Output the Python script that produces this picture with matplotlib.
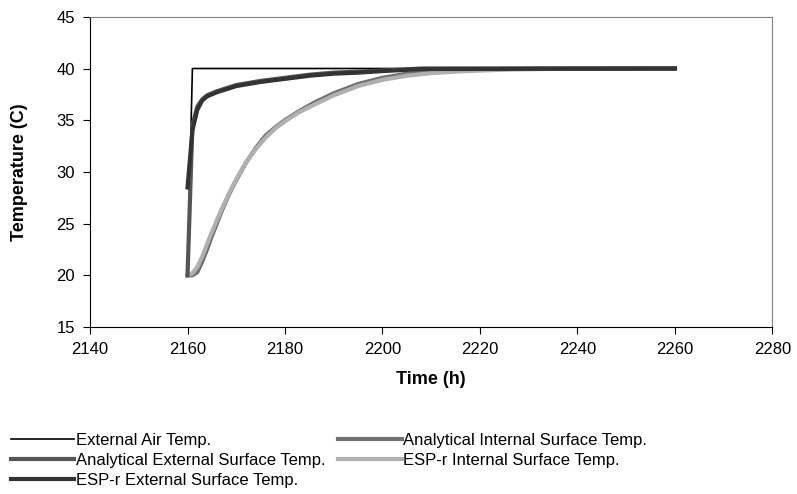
import matplotlib.pyplot as plt
import numpy as np

plt.rcParams['font.family'] = ['Liberation Sans', 'DejaVu Sans']

# hours and readings
t_air = [2160, 2161, 2260]
air = [20, 40, 40]

t_ext = [2160, 2161, 2162, 2163, 2164, 2166, 2168, 2170, 2175, 2180,
         2185, 2190, 2195, 2200, 2208, 2260]
ana_ext = [20, 34.5, 36.3, 37.0, 37.4, 37.8, 38.1, 38.4, 38.8, 39.1,
           39.4, 39.6, 39.7, 39.8, 40.0, 40.0]
esp_ext = [28.5, 34.0, 36.0, 36.9, 37.3, 37.7, 38.0, 38.3, 38.7, 39.0,
           39.3, 39.5, 39.6, 39.75, 39.95, 40.0]

t_int = [2160, 2161, 2162, 2163, 2164, 2165, 2166, 2167, 2168, 2169, 2170,
         2172, 2174, 2176, 2178, 2180, 2183, 2186, 2190, 2195, 2200, 2205,
         2210, 2215, 2220, 2230, 2240, 2260]
ana_int = [20, 20, 20.3, 21.3, 22.5, 23.8, 25.0, 26.2, 27.3, 28.3, 29.2,
           30.9, 32.3, 33.5, 34.3, 35.0, 35.9, 36.7, 37.6, 38.5, 39.1, 39.5,
           39.7, 39.85, 39.92, 39.98, 40.0, 40.0]
t_esp_int = [2160, 2161, 2162, 2163, 2164, 2165, 2166, 2167, 2168, 2169, 2170,
             2172, 2174, 2176, 2178, 2180, 2183, 2186, 2190, 2195, 2200, 2205,
             2210, 2215, 2220, 2226, 2233]
esp_int = [20, 20.2, 20.8, 21.8, 23.0, 24.2, 25.3, 26.4, 27.4, 28.4, 29.3,
           30.9, 32.2, 33.3, 34.2, 34.9, 35.8, 36.5, 37.4, 38.3, 38.9, 39.3,
           39.55, 39.7, 39.8, 39.9, 39.95]

fig = plt.figure(figsize=(7.97, 4.94), dpi=100)
ax = fig.add_axes([0.113, 0.338, 0.856, 0.628])

l_air, = ax.plot(t_air, air, color="black", linewidth=1.2)
l_aint, = ax.plot(t_int, ana_int, color="#707070", linewidth=3)
l_eint, = ax.plot(t_esp_int, esp_int, color="#b0b0b0", linewidth=3)
l_aext, = ax.plot(t_ext, ana_ext, color="#555555", linewidth=3)
l_eext, = ax.plot(t_ext, esp_ext, color="#333333", linewidth=3)

ax.set_xlim(2140, 2280)
ax.set_ylim(15, 45)
ax.set_xticks(np.arange(2140, 2281, 20))
ax.set_yticks(np.arange(15, 46, 5))
ax.tick_params(labelsize=12, direction="out", length=5, pad=6)
ax.set_xlabel("Time (h)", fontsize=13, fontweight="bold", labelpad=10)
ax.set_ylabel("Temperature (C)", fontsize=13, fontweight="bold", labelpad=20)
for s in ["top", "right"]:
    ax.spines[s].set_color("#808080")

fig.legend([l_air, l_aext, l_eext, l_aint, l_eint],
           ["External Air Temp.", "Analytical External Surface Temp.",
            "ESP-r External Surface Temp.",
            "Analytical Internal Surface Temp.", "ESP-r Internal Surface Temp."],
           loc="upper left", bbox_to_anchor=(0.005, 0.137), ncol=2,
           frameon=False, handlelength=3.8, handletextpad=0.1,
           labelspacing=0.3, columnspacing=0.8, borderaxespad=0,
           prop={'size': 12})

fig.savefig("out.png", dpi=100)
